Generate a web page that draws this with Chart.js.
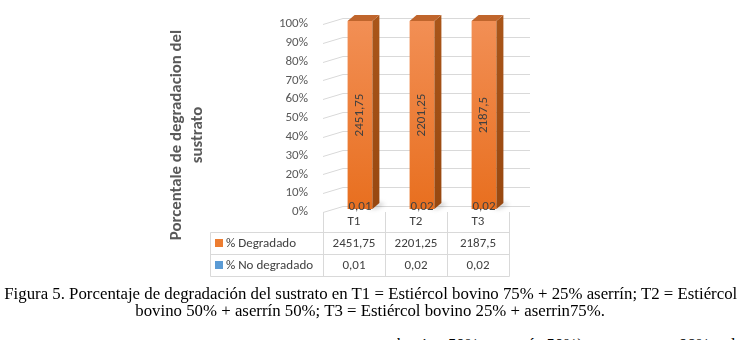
<!DOCTYPE html>
<html>
<head>
<meta charset="utf-8">
<script src="https://cdn.jsdelivr.net/npm/chart.js@4.4.1/dist/chart.umd.min.js"></script>
<style>
  body { margin: 0; width: 741px; height: 340px; overflow: hidden; background: #fff; position: relative; }
  #wrap { position: absolute; left: 0; top: 0; width: 741px; height: 280px; }
  #ytitle { position: absolute; left: 37px; top: 113px; width: 300px; height: 44px; line-height: 22px;
            text-align: center; transform: rotate(-90deg); font: bold 16.8px Carlito, Lato, sans-serif;
            color: #595959; white-space: nowrap; }
  .cap { position: absolute; left: 0; width: 741px; height: 20px; line-height: 20px;
         display: flex; justify-content: center;
         font-family: "Liberation Serif", "Times New Roman", Tinos, "DejaVu Serif", "Noto Serif", serif;
         font-size: 17.7px; color: #000; white-space: nowrap; }
  .cap span { display: inline-block; flex: none; transform-origin: 50% 50%; }
</style>
</head>
<body>
<div id="wrap"><canvas id="degChart" width="741" height="280"></canvas></div>
<div id="ytitle">Porcentale de degradacion del<br>sustrato</div>
<div class="cap" style="top:283px"><span>Figura 5. Porcentaje de degradación del sustrato en T1 = Estiércol bovino 75% + 25% aserrín; T2 = Estiércol</span></div>
<div class="cap" style="top:299.5px"><span>bovino 50% + aserrín 50%; T3 = Estiércol bovino 25% + aserrin75%.</span></div>
<div class="cap" style="top:334px;justify-content:flex-start;left:397px;width:344px"><span style="transform-origin:0 50%">bovino 50% + aserrín 50%) con un rango 98% y del 5</span></div>
<script>
const categorias = ["T1", "T2", "T3"];
const degradado = [2451.75, 2201.25, 2187.5];
const noDegradado = [0.01, 0.02, 0.02];
const series = ["% Degradado", "% No degradado"];

// stacked to 100 %
const pctDeg = degradado.map((v, i) => v / (v + noDegradado[i]) * 100);
const pctNo = noDegradado.map((v, i) => v / (degradado[i] + v) * 100);

const FONT = "Carlito, Lato, sans-serif";
const GRID = "#d9d9d9";
const DEPTH = { x: 7, y: -6 };     // bar extrusion
const WALL = { x: 20, y: -6 };     // back wall offset
const SHIFT = { x: 6, y: -3 };     // bars sit a little behind the front edge

const fmt = v => String(v).replace(".", ",");

function orangeFront(ctx, area) {
  const g = ctx.createLinearGradient(0, area.top, 0, area.bottom);
  g.addColorStop(0, "#f28f55");
  g.addColorStop(1, "#e86f1f");
  return g;
}

const threeD = {
  id: "threeD",
  beforeDatasetsDraw(chart) {
    const { ctx, chartArea: a, scales: { y } } = chart;
    ctx.save();
    ctx.strokeStyle = GRID;
    ctx.lineWidth = 1;
    for (let v = 0; v <= 100; v += 10) {
      const py = Math.round(y.getPixelForValue(v)) + 0.5;
      ctx.beginPath();
      ctx.moveTo(a.left, py);
      ctx.lineTo(a.left + WALL.x, py + WALL.y);
      ctx.lineTo(a.right + WALL.x + 1, py + WALL.y);
      ctx.stroke();
    }
    // soft floor shadows behind the columns
    const base = y.getPixelForValue(0);
    ctx.filter = "blur(2px)";
    ctx.fillStyle = "rgba(0,0,0,0.18)";
    chart.getDatasetMeta(0).data.forEach(el => {
      const r = el.x + el.width / 2 + SHIFT.x;
      ctx.beginPath();
      ctx.moveTo(r - 4, base + SHIFT.y);
      ctx.lineTo(r + 4, base + SHIFT.y);
      ctx.lineTo(r + DEPTH.x + 6, base + SHIFT.y + DEPTH.y + 1);
      ctx.lineTo(r + DEPTH.x - 2, base + SHIFT.y + DEPTH.y - 1);
      ctx.closePath();
      ctx.fill();
    });
    ctx.restore();
    ctx.save();
    ctx.translate(SHIFT.x, SHIFT.y);
  },
  afterDatasetsDraw(chart) {
    const { ctx } = chart;
    const low = chart.getDatasetMeta(0).data;
    const high = chart.getDatasetMeta(1).data;
    high.forEach((el, i) => {
      const l = el.x - el.width / 2, r = el.x + el.width / 2;
      const top = el.y, bot = low[i].base;
      // side
      const sg = ctx.createLinearGradient(0, top, 0, bot);
      sg.addColorStop(0, "#a95519");
      sg.addColorStop(1, "#984810");
      ctx.fillStyle = sg;
      ctx.beginPath();
      ctx.moveTo(r, top); ctx.lineTo(r + DEPTH.x, top + DEPTH.y);
      ctx.lineTo(r + DEPTH.x, bot + DEPTH.y); ctx.lineTo(r, bot);
      ctx.closePath(); ctx.fill();
      // top
      ctx.fillStyle = "#c0652c";
      ctx.beginPath();
      ctx.moveTo(l, top); ctx.lineTo(l + DEPTH.x, top + DEPTH.y);
      ctx.lineTo(r + DEPTH.x, top + DEPTH.y); ctx.lineTo(r, top);
      ctx.closePath(); ctx.fill();
    });
    // value labels
    ctx.fillStyle = "#404040";
    ctx.font = "13px " + FONT;
    ctx.textAlign = "center";
    ctx.textBaseline = "middle";
    high.forEach((el, i) => {
      ctx.save();
      ctx.translate(el.x, (el.y + low[i].base) / 2);
      ctx.rotate(-Math.PI / 2);
      ctx.fillText(fmt(degradado[i]), 0, 0);
      ctx.restore();
    });
    low.forEach((el, i) => ctx.fillText(fmt(noDegradado[i]), el.x, el.base - 2));
    ctx.restore();
  }
};

const dataTable = {
  id: "dataTable",
  afterDraw(chart) {
    const { ctx, chartArea: a, scales: { x } } = chart;
    const step = (a.right - a.left) / categorias.length;
    const rows = [232.5, 254.5, 276.5];
    const left = 210.5;
    ctx.save();
    ctx.strokeStyle = GRID;
    ctx.lineWidth = 1;
    ctx.beginPath();
    for (let k = 0; k <= categorias.length; k++) {
      const px = Math.round(a.left + k * step) + 0.5;
      ctx.moveTo(px, a.bottom); ctx.lineTo(px, rows[2]);
    }
    rows.forEach(r => { ctx.moveTo(left, r); ctx.lineTo(Math.round(a.right) + 0.5, r); });
    ctx.moveTo(left, rows[0]); ctx.lineTo(left, rows[2]);
    ctx.stroke();

    ctx.font = "13px " + FONT;
    ctx.fillStyle = "#404040";
    ctx.textBaseline = "middle";
    ctx.textAlign = "center";
    categorias.forEach((c, i) => {
      const cx = x.getPixelForValue(i);
      ctx.fillText(c, cx, 222);
      ctx.fillText(fmt(degradado[i]), cx, 243.5);
      ctx.fillText(fmt(noDegradado[i]), cx, 265.5);
    });
    ctx.textAlign = "left";
    ctx.fillStyle = "#ed7d31"; ctx.fillRect(215, 239, 8, 8);
    ctx.fillStyle = "#5b9bd5"; ctx.fillRect(215, 261, 8, 8);
    ctx.fillStyle = "#404040";
    ctx.fillText(series[0], 226, 243.5);
    ctx.fillText(series[1], 226, 265.5);
    ctx.restore();
  }
};

new Chart(document.getElementById("degChart"), {
  type: "bar",
  data: {
    labels: categorias,
    datasets: [
      { label: series[1], data: pctNo, backgroundColor: "#5b9bd5", stack: "s" },
      { label: series[0], data: pctDeg, stack: "s",
        backgroundColor: c => c.chart.chartArea ? orangeFront(c.chart.ctx, c.chart.chartArea) : "#ed7d31" }
    ]
  },
  options: {
    responsive: false,
    devicePixelRatio: 1,
    animation: false,
    layout: { padding: { left: 0, right: 232, top: 24, bottom: 68 } },
    datasets: { bar: { barPercentage: 0.4, categoryPercentage: 1 } },
    plugins: { legend: { display: false }, tooltip: { enabled: false } },
    scales: {
      x: { display: false, stacked: true },
      y: {
        stacked: true, min: 0, max: 100,
        afterFit: s => { s.width = 323; },
        grid: { display: false, drawTicks: false },
        border: { display: false },
        ticks: { stepSize: 10, padding: 15, color: "#595959", font: { family: FONT, size: 13 }, callback: v => v + "%" }
      }
    }
  },
  plugins: [threeD, dataTable]
});

// caption lines are set in a condensed serif
const spans = document.querySelectorAll(".cap span");
const k = 733 / spans[0].getBoundingClientRect().width;
spans.forEach(s => { s.style.transform = "scaleX(" + k + ")"; });
</script>
</body>
</html>
